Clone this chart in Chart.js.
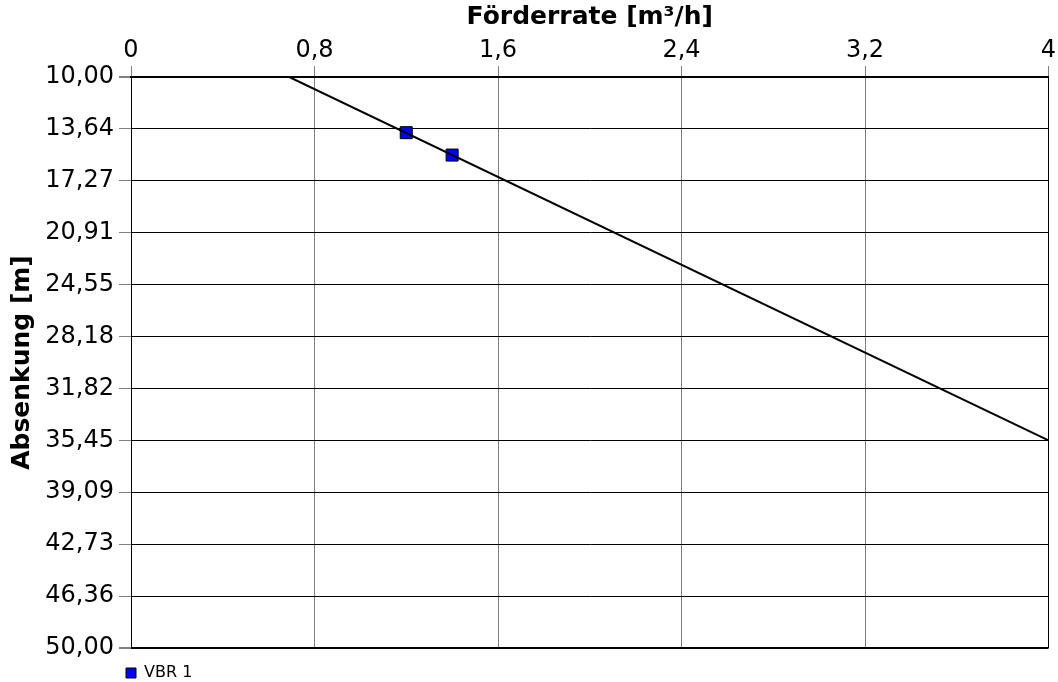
<!DOCTYPE html>
<html>
<head>
<meta charset="utf-8">
<script src="https://cdn.jsdelivr.net/npm/chart.js@4"></script>
<style>
html,body{margin:0;padding:0;background:#fff;}
#wrap{width:1058px;height:682px;position:relative;}
</style>
</head>
<body>
<div id="wrap"><canvas id="c" width="1058" height="682"></canvas></div>
<script>
// Data
const lineX = [0.69, 4.0];
const lineY = [10.0, 35.45];
const vbrX = [1.20, 1.40];
const vbrY = [13.9, 15.47];
const seriesName = 'VBR 1';
const xTicks = [0, 0.8, 1.6, 2.4, 3.2, 4];
const yTicks = [10.00, 13.64, 17.27, 20.91, 24.55, 28.18, 31.82, 35.45, 39.09, 42.73, 46.36, 50.00];

const FONT = "'DejaVu Sans', Verdana, sans-serif";

const legendShift = {
  id: 'legendShift',
  afterLayout(chart) {
    const lg = chart.legend;
    if (lg) {
      const w = lg.right - lg.left;
      lg.left = chart.chartArea.left - 13;
      lg.right = lg.left + w;
      const h = lg.bottom - lg.top;
      lg.top = chart.chartArea.bottom + 9;
      lg.bottom = lg.top + h;
    }
  }
};

new Chart(document.getElementById('c'), {
  type: 'scatter',
  data: {
    datasets: [
      {
        label: 'Trend',
        data: lineX.map((x, i) => ({x, y: lineY[i]})),
        showLine: true,
        borderColor: '#000',
        borderWidth: 2,
        pointRadius: 0,
        pointHoverRadius: 0,
        fill: false
      },
      {
        label: seriesName,
        data: vbrX.map((x, i) => ({x, y: vbrY[i]})),
        pointStyle: 'rect',
        pointRadius: 8.5,
        pointBackgroundColor: '#0000ff',
        pointBorderColor: '#000',
        pointBorderWidth: 1,
        backgroundColor: '#0000ff',
        borderColor: '#000',
        borderWidth: 1
      }
    ]
  },
  options: {
    responsive: false,
    animation: false,
    devicePixelRatio: 1,
    layout: {padding: {left: 0, right: 9, top: 0, bottom: 0}},
    plugins: {
      tooltip: {enabled: false},
      legend: {
        position: 'bottom',
        align: 'start',
        labels: {
          boxWidth: 10,
          boxHeight: 10,
          padding: 8,
          color: '#000',
          font: {family: FONT, size: 16},
          generateLabels: (chart) => [{
            text: seriesName,
            fillStyle: '#0000ff',
            strokeStyle: '#000',
            lineWidth: 1,
            datasetIndex: 1,
            fontColor: '#000'
          }]
        }
      }
    },
    scales: {
      x: {
        type: 'linear',
        position: 'top',
        min: 0,
        max: 4,
        afterBuildTicks: (s) => { s.ticks = xTicks.map(v => ({value: v})); },
        afterFit: (s) => { s.height = 77; },
        ticks: {
          color: '#000',
          font: {family: FONT, size: 24},
          padding: 1,
          maxRotation: 0,
          autoSkip: false,
          callback: (v) => String(v).replace('.', ',')
        },
        grid: {
          color: (ctx) => (ctx.index === 0 || ctx.index === xTicks.length - 1) ? '#000' : '#808080',
          lineWidth: 1,
          tickLength: 11,
          tickColor: '#808080'
        },
        border: {color: '#000', width: 2},
        title: {
          display: true,
          text: 'Förderrate [m³/h]',
          color: '#000',
          font: {family: FONT, size: 25, weight: 'bold'},
          padding: {top: 2, bottom: 0}
        }
      },
      y: {
        type: 'linear',
        reverse: true,
        min: 10,
        max: 50,
        afterBuildTicks: (s) => { s.ticks = yTicks.map(v => ({value: v})); },
        afterFit: (s) => { s.width = 131; },
        ticks: {
          color: '#000',
          font: {family: FONT, size: 24},
          padding: 5,
          autoSkip: false,
          callback: (v) => Number(v).toFixed(2).replace('.', ',')
        },
        grid: {
          color: '#000',
          lineWidth: (ctx) => (ctx.index === 0 || ctx.index === yTicks.length - 1) ? 2 : 1,
          tickLength: 12,
          tickColor: '#808080'
        },
        border: {color: '#000', width: 1},
        title: {
          display: true,
          text: 'Absenkung [m]',
          color: '#000',
          font: {family: FONT, size: 25, weight: 'bold'},
          padding: {top: 7, bottom: 0}
        }
      }
    }
  },
  plugins: [legendShift]
});
</script>
</body>
</html>
